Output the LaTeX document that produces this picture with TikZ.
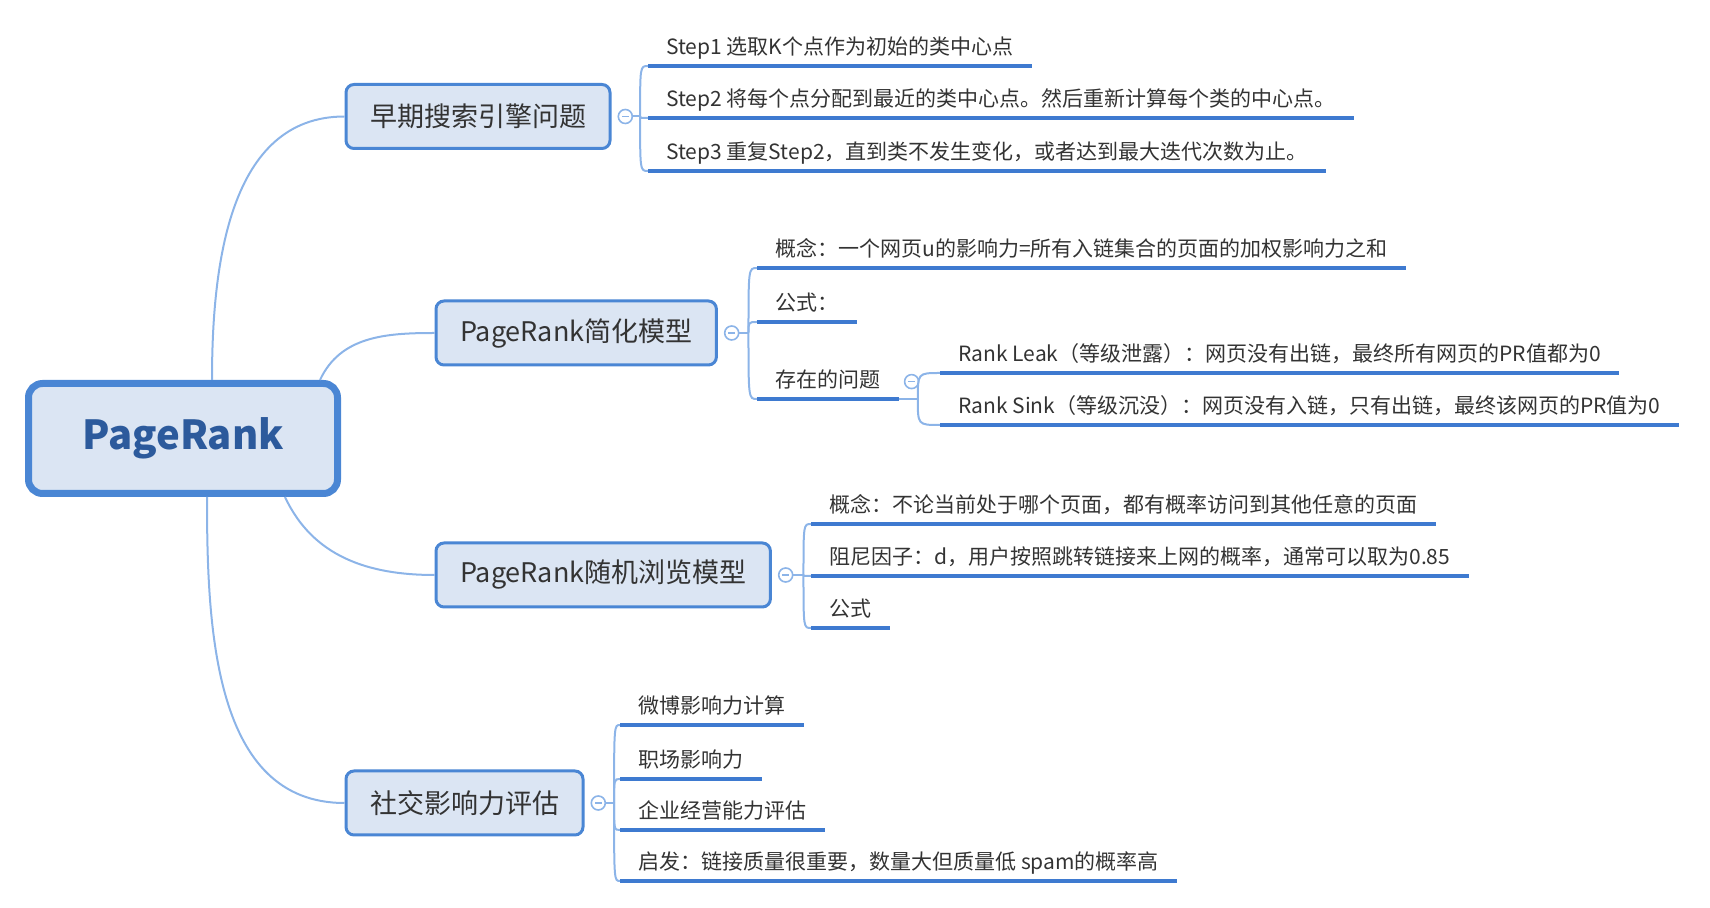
\documentclass[tikz,border=0pt]{standalone}
\usepackage{fontspec}
\setmainfont{Noto Sans CJK SC}
\usetikzlibrary{positioning,calc}
\definecolor{mmBlue}{RGB}{74,134,212}
\definecolor{mmFill}{RGB}{219,229,243}
\definecolor{mmLine}{RGB}{62,122,208}
\definecolor{mmTwig}{RGB}{140,180,232}
\definecolor{mmText}{RGB}{51,51,51}
\definecolor{mmDark}{RGB}{44,90,156}
\tikzset{
    base/.style={align=left, text=mmText},
    root/.style={base, rectangle, rounded corners=7pt, draw=mmBlue, line width=3.5pt,
                 fill=mmFill, text=mmDark, font=\fontsize{20}{24}\selectfont\bfseries,
                 minimum width=154.5pt, minimum height=55pt},
    topic/.style={base, rectangle, rounded corners=4pt, draw=mmBlue, line width=1.5pt,
                  fill=mmFill, font=\fontsize{13.5}{16}\selectfont, inner xsep=12pt,
                  minimum height=32pt, anchor=west},
    leaf/.style={base, font=\fontsize{10.5}{13}\selectfont, anchor=south west,
                 inner xsep=9pt, inner ysep=3pt, text height=0.85em, text depth=0.25em},
    uline/.style={mmLine, line width=2pt},
    fold/.style={circle, draw=mmTwig, fill=white, line width=0.8pt, minimum size=7pt, inner sep=0pt,
                 path picture={\draw[mmTwig, line width=0.8pt]
                   ([xshift=-1.6pt]path picture bounding box.center) --
                   ([xshift=1.6pt]path picture bounding box.center);}},
    branch/.style={mmTwig, line width=1pt},
    twig/.style={mmTwig, line width=1pt}
}
\begin{document}
\begin{tikzpicture}[x=0.5pt, y=-0.5pt]
  \useasboundingbox (0,0) rectangle (1710,908);

  % Root
  \node[root] (root) at (183,438.5) {PageRank};

  % Topics
  \node[topic] (b1) at (344.5,116.5) {早期搜索引擎问题};
  \node[topic] (b2) at (434.5,333) {PageRank简化模型};
  \node[topic] (b3) at (434.5,575) {PageRank随机浏览模型};
  \node[topic] (b4) at (344.5,803) {社交影响力评估};

  \draw[branch] ($(root.north)+(29,0)$) to[out=90, in=180] (b1.west);
  \draw[branch] ($(root.north)+(137,0)$) to[out=65, in=180] (b2.west);
  \draw[branch] ($(root.south)+(102,0)$) to[out=-65, in=180] (b3.west);
  \draw[branch] ($(root.south)+(24,0)$) to[out=-90, in=180] (b4.west);

  % Early search engines
  \node[fold, right=3pt of b1] (f1) {};
  \coordinate[right=3.5pt of f1] (j1);
  \node[leaf] (s1) at (648,66) {Step1 选取K个点作为初始的类中心点};
  \node[leaf] (s2) at (648,118) {Step2 将每个点分配到最近的类中心点。然后重新计算每个类的中心点。};
  \node[leaf] (s3) at (648,171) {Step3 重复Step2，直到类不发生变化，或者达到最大迭代次数为止。};
  \draw[twig] (f1) -- (j1);
  \foreach \n in {s1,s2,s3}
    \draw[twig] (j1) .. controls (j1 |- \n.south west) .. (\n.south west);

  % Simplified model
  \node[fold, right=3pt of b2] (f2) {};
  \coordinate[right=4.5pt of f2] (j2);
  \node[leaf] (p1) at (757,268) {概念：一个网页u的影响力=所有入链集合的页面的加权影响力之和};
  \node[leaf] (p2) at (757,322) {公式：};
  \node[leaf] (p3) at (757,399) {存在的问题};
  \draw[twig] (f2) -- (j2);
  \foreach \n in {p1,p2,p3}
    \draw[twig] (j2) .. controls (j2 |- \n.south west) .. (\n.south west);

  \node[fold, right=2.5pt of p3] (f5) {};
  \coordinate (j5) at ($(p3.south east)+(19,0)$);
  \node[leaf] (r1) at (940,373) {Rank Leak（等级泄露）：网页没有出链，最终所有网页的PR值都为0};
  \node[leaf] (r2) at (940,425) {Rank Sink（等级沉没）：网页没有入链，只有出链，最终该网页的PR值为0};
  \draw[twig] (p3.south east) -- (j5);
  \foreach \n in {r1,r2}
    \draw[twig] (j5) .. controls (j5 |- \n.south west) .. (\n.south west);

  % Random surfer model
  \node[fold, right=3pt of b3] (f3) {};
  \coordinate[right=5pt of f3] (j3);
  \node[leaf] (q1) at (811,524) {概念：不论当前处于哪个页面，都有概率访问到其他任意的页面};
  \node[leaf] (q2) at (811,576) {阻尼因子：d，用户按照跳转链接来上网的概率，通常可以取为0.85};
  \node[leaf] (q3) at (811,628) {公式};
  \draw[twig] (f3) -- (j3);
  \foreach \n in {q1,q2,q3}
    \draw[twig] (j3) .. controls (j3 |- \n.south west) .. (\n.south west);

  % Social influence
  \node[fold, right=3pt of b4] (f4) {};
  \coordinate[right=4pt of f4] (j4);
  \node[leaf] (t1) at (620,725) {微博影响力计算};
  \node[leaf] (t2) at (620,779) {职场影响力};
  \node[leaf] (t3) at (620,830) {企业经营能力评估};
  \node[leaf] (t4) at (620,881) {启发：链接质量很重要，数量大但质量低 spam的概率高};
  \draw[twig] (f4) -- (j4);
  \foreach \n in {t1,t2,t3,t4}
    \draw[twig] (j4) .. controls (j4 |- \n.south west) .. (\n.south west);

  % Underlines
  \foreach \n in {s1,s2,s3,p1,p2,p3,r1,r2,q1,q2,q3,t1,t2,t3,t4}
    \draw[uline] (\n.south west) -- (\n.south east);
\end{tikzpicture}
\end{document}
